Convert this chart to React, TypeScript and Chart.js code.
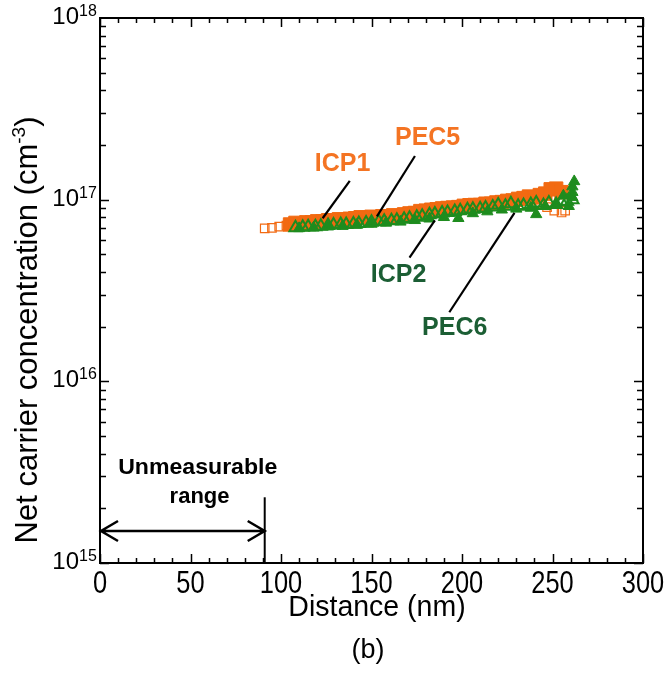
import React, { useEffect, useRef } from 'react';
import { Chart, registerables } from 'chart.js';

Chart.register(...registerables);

// ---------- data ----------
const ICP1_X = [105, 108, 111, 114, 117, 120, 123, 126, 129, 132, 135, 138, 141, 144, 147, 150, 153, 156, 159, 162, 165, 168, 171, 174, 177, 180, 183, 186, 189, 192, 195, 198, 201, 204, 207, 210, 213, 216, 219, 222, 225, 228, 231, 234, 237, 240, 243, 246, 249, 252, 255];
const ICP1_Y = [7.3e16, 7.45e16, 7.35e16, 7.5e16, 7.5e16, 7.6e16, 7.6e16, 7.7e16, 7.7e16, 7.8e16, 7.75e16, 7.85e16, 7.9e16, 8.0e16, 7.95e16, 8.05e16, 8.0e16, 8.1e16, 8.1e16, 8.2e16, 8.15e16, 8.3e16, 8.4e16, 8.45e16, 8.65e16, 8.7e16, 8.8e16, 8.85e16, 8.95e16, 9.0e16, 9.05e16, 9.1e16, 9.25e16, 9.25e16, 9.35e16, 9.35e16, 9.5e16, 9.5e16, 9.65e16, 9.7e16, 9.85e16, 9.9e16, 1.01e17, 1.02e17, 1.04e17, 1.03e17, 1.06e17, 1.08e17, 1.14e17, 1.15e17, 1.1e17];

const PEC5_X = [91, 95, 99, 103, 107, 111, 115, 119, 123, 127, 131, 135, 139, 143, 147, 151, 155, 159, 163, 167, 171, 175, 179, 183, 187, 191, 195, 199, 203, 207, 211, 215, 219, 223, 227, 231, 235, 239, 243, 247, 251, 255, 257];
const PEC5_Y = [6.95e16, 7.0e16, 7.1e16, 7.2e16, 7.25e16, 7.3e16, 7.4e16, 7.45e16, 7.5e16, 7.55e16, 7.6e16, 7.65e16, 7.7e16, 7.8e16, 7.85e16, 7.9e16, 8.0e16, 8.05e16, 8.15e16, 8.25e16, 8.35e16, 8.45e16, 8.55e16, 8.65e16, 8.8e16, 8.9e16, 9.0e16, 9.2e16, 9.6e16, 9.3e16, 9.4e16, 9.5e16, 9.6e16, 9.8e16, 9.9e16, 9.7e16, 1.02e17, 1.0e17, 9.5e16, 9.1e16, 8.7e16, 8.5e16, 8.7e16];

const ICP2_X = [110, 118, 126, 134, 142, 150, 158, 166, 174, 182, 190, 198, 206, 214, 222, 230, 238, 241, 246, 252, 256, 259, 261, 261, 261, 262];
const ICP2_Y = [6.95e16, 7.0e16, 7.1e16, 7.15e16, 7.25e16, 7.35e16, 7.45e16, 7.55e16, 7.7e16, 7.85e16, 8.0e16, 7.9e16, 8.4e16, 8.6e16, 8.8e16, 8.9e16, 9.0e16, 8.3e16, 9.2e16, 9.4e16, 1.05e17, 9.2e16, 1.03e17, 1.1e17, 1.18e17, 1.26e17];

const PEC6_X = [108, 112, 115, 119, 122, 126, 129, 133, 136, 140, 143, 147, 150, 154, 157, 161, 164, 168, 171, 175, 178, 182, 185, 189, 192, 196, 199, 203, 206, 210, 213, 217, 220, 224, 227, 231, 234, 238, 241, 245, 248, 252, 255, 258, 261];
const PEC6_Y = [7.0e16, 7.05e16, 7.1e16, 7.1e16, 7.15e16, 7.2e16, 7.25e16, 7.3e16, 7.3e16, 7.35e16, 7.4e16, 7.45e16, 7.5e16, 7.55e16, 7.6e16, 7.65e16, 7.7e16, 7.8e16, 7.9e16, 8.0e16, 8.1e16, 8.25e16, 8.35e16, 8.45e16, 8.5e16, 8.6e16, 8.7e16, 8.8e16, 8.85e16, 8.9e16, 9.0e16, 9.1e16, 9.35e16, 9.2e16, 9.5e16, 9.2e16, 9.3e16, 9.4e16, 9.6e16, 9.3e16, 9.6e16, 9.4e16, 9.7e16, 9.8e16, 1.0e17];

const SERIES_NAMES = ['ICP1', 'PEC5', 'ICP2', 'PEC6'];

const X_TICKS = [0, 50, 100, 150, 200, 250, 300];
const Y_DECADES = [15, 16, 17, 18];
const X_TITLE = 'Distance (nm)';
const Y_TITLE = 'Net carrier concentration (cm';
const Y_TITLE_SUP = '-3';
const CAPTION = '(b)';
const UNMEAS_LINES = ['Unmeasurable', 'range'];
const UNMEAS_LIMIT = 91;

// annotation anchors in data units: [label x, label y, line x1, y1, x2, y2]
const LABEL_ICP1 = [134, 1.57e17, 138, 1.27e17, 123, 7.9e16];
const LABEL_PEC5 = [181, 2.18e17, 174, 1.74e17, 153, 8.1e16];
const LABEL_ICP2 = [165, 3.85e16, 171, 4.8e16, 185, 7.7e16];
const LABEL_PEC6 = [196, 1.97e16, 193, 2.4e16, 229, 8.45e16];
const UNMEAS_TEXT_POS = [54, 3.34e15, 55, 2.3e15];
const ARROW_Y = 1.5e15;
const LIMIT_TOP = 2.3e15;

const ORANGE = '#F26A12';
const ORANGE_TXT = '#F47423';
const GREEN = '#1E8C1E';
const GREEN_TXT = '#1B5E34';
const FONT = '"Liberation Sans", Arial, sans-serif';

function pts(xs: number[], ys: number[]) {
  return xs.map((x, i) => ({ x, y: ys[i] }));
}

const decorPlugin = {
  id: 'decor',
  afterDatasetsDraw(chart: any) {
    const ctx: CanvasRenderingContext2D = chart.ctx;
    const xs = chart.scales.x;
    const ys = chart.scales.y;
    const ca = chart.chartArea;
    const X = (v: number) => xs.getPixelForValue(v);
    const Y = (v: number) => ys.getPixelForValue(v);
    ctx.save();

    // frame
    ctx.strokeStyle = '#000';
    ctx.lineWidth = 2;
    ctx.strokeRect(ca.left, ca.top, ca.right - ca.left, ca.bottom - ca.top);

    // x ticks (inward, top & bottom)
    ctx.lineWidth = 1.5;
    for (let v = 0; v <= 300; v += 10) {
      const len = v % 50 === 0 ? 9 : 5;
      const px = Math.round(X(v)) + 0.5;
      ctx.beginPath();
      ctx.moveTo(px, ca.bottom);
      ctx.lineTo(px, ca.bottom - len);
      ctx.moveTo(px, ca.top);
      ctx.lineTo(px, ca.top + len);
      ctx.stroke();
    }
    // y ticks (log, inward, left & right)
    for (let d = 15; d < 18; d++) {
      for (let m = 1; m <= 9; m++) {
        const v = m * Math.pow(10, d);
        const len = m === 1 ? 9 : 6;
        const py = Math.round(Y(v)) + 0.5;
        ctx.beginPath();
        ctx.moveTo(ca.left, py);
        ctx.lineTo(ca.left + len, py);
        ctx.moveTo(ca.right, py);
        ctx.lineTo(ca.right - len, py);
        ctx.stroke();
      }
    }

    // x tick labels
    ctx.fillStyle = '#000';
    ctx.textBaseline = 'alphabetic';
    ctx.textAlign = 'center';
    X_TICKS.forEach((t) => {
      ctx.save();
      ctx.translate(X(t), ca.bottom + 30);
      ctx.scale(0.82, 1);
      ctx.font = `31px ${FONT}`;
      ctx.textAlign = 'center';
      ctx.fillText(String(t), 0, 0);
      ctx.restore();
    });

    // y tick labels 10^n
    const baseRight = ca.left - 21;
    Y_DECADES.forEach((d) => {
      const py = Y(Math.pow(10, d));
      ctx.font = `24px ${FONT}`;
      ctx.textAlign = 'right';
      ctx.fillText('10', baseRight, py + 6);
      ctx.font = `16px ${FONT}`;
      ctx.textAlign = 'left';
      ctx.fillText(String(d), baseRight, py - 2);
    });

    // x title
    ctx.textAlign = 'center';
    ctx.font = `30px ${FONT}`;
    ctx.save();
    ctx.translate(377, ca.bottom + 53);
    ctx.scale(0.95, 1);
    ctx.fillText(X_TITLE, 0, 0);
    ctx.restore();

    // caption
    ctx.font = `27px ${FONT}`;
    ctx.fillText(CAPTION, 368, ca.bottom + 95);

    // y title rotated
    ctx.save();
    ctx.translate(37, 330);
    ctx.rotate(-Math.PI / 2);
    ctx.font = `31px ${FONT}`;
    const w1 = ctx.measureText(Y_TITLE).width;
    ctx.font = `19px ${FONT}`;
    const w2 = ctx.measureText(Y_TITLE_SUP).width;
    ctx.font = `31px ${FONT}`;
    const w3 = ctx.measureText(')').width;
    const total = w1 + w2 + w3;
    let sx = -total / 2;
    ctx.textAlign = 'left';
    ctx.fillText(Y_TITLE, sx, 0);
    sx += w1;
    ctx.font = `19px ${FONT}`;
    ctx.fillText(Y_TITLE_SUP, sx, -12);
    sx += w2;
    ctx.font = `31px ${FONT}`;
    ctx.fillText(')', sx, 0);
    ctx.restore();

    // series labels and leader lines
    const lab = (a: number[], text: string, color: string) => {
      ctx.strokeStyle = '#000';
      ctx.lineWidth = 2.2;
      ctx.beginPath();
      ctx.moveTo(X(a[2]), Y(a[3]));
      ctx.lineTo(X(a[4]), Y(a[5]));
      ctx.stroke();
      ctx.fillStyle = color;
      ctx.font = `bold 25px ${FONT}`;
      ctx.textAlign = 'center';
      ctx.textBaseline = 'middle';
      ctx.fillText(text, X(a[0]), Y(a[1]));
    };
    lab(LABEL_ICP1, SERIES_NAMES[0], ORANGE_TXT);
    lab(LABEL_PEC5, SERIES_NAMES[1], ORANGE_TXT);
    lab(LABEL_ICP2, SERIES_NAMES[2], GREEN_TXT);
    lab(LABEL_PEC6, SERIES_NAMES[3], GREEN_TXT);

    // unmeasurable range
    ctx.fillStyle = '#000';
    ctx.textAlign = 'center';
    ctx.textBaseline = 'middle';
    ctx.font = `bold 22px ${FONT}`;
    ctx.save();
    ctx.translate(X(UNMEAS_TEXT_POS[0]), Y(UNMEAS_TEXT_POS[1]));
    ctx.scale(1.05, 1);
    ctx.fillText(UNMEAS_LINES[0], 0, 0);
    ctx.restore();
    ctx.fillText(UNMEAS_LINES[1], X(UNMEAS_TEXT_POS[2]), Y(UNMEAS_TEXT_POS[3]));

    const ax0 = X(0);
    const ax1 = X(UNMEAS_LIMIT);
    const ay = Y(ARROW_Y);
    ctx.strokeStyle = '#000';
    ctx.lineWidth = 2.5;
    ctx.beginPath();
    ctx.moveTo(ax0 + 1, ay);
    ctx.lineTo(ax1, ay);
    ctx.moveTo(ax0 + 18, ay - 10);
    ctx.lineTo(ax0 + 1, ay);
    ctx.lineTo(ax0 + 18, ay + 10);
    ctx.moveTo(ax1 - 17, ay - 10);
    ctx.lineTo(ax1, ay);
    ctx.lineTo(ax1 - 17, ay + 10);
    ctx.stroke();
    ctx.lineWidth = 2;
    ctx.beginPath();
    ctx.moveTo(ax1, Y(LIMIT_TOP));
    ctx.lineTo(ax1, ca.bottom);
    ctx.stroke();

    ctx.restore();
  },
};

export default function App() {
  const ref = useRef<HTMLCanvasElement | null>(null);
  useEffect(() => {
    document.body.style.margin = '0';
    const canvas = ref.current;
    if (!canvas) return;
    const chart = new Chart(canvas, {
      type: 'scatter',
      data: {
        datasets: [
          {
            label: SERIES_NAMES[3],
            data: pts(PEC6_X, PEC6_Y),
            pointStyle: 'triangle',
            pointRadius: 7,
            borderColor: GREEN,
            backgroundColor: 'rgba(0,0,0,0)',
            pointBorderWidth: 2,
            order: 1,
          },
          {
            label: SERIES_NAMES[2],
            data: pts(ICP2_X, ICP2_Y),
            pointStyle: 'triangle',
            pointRadius: 6.5,
            borderColor: GREEN,
            backgroundColor: GREEN,
            pointBorderWidth: 1,
            order: 2,
          },
          {
            label: SERIES_NAMES[1],
            data: pts(PEC5_X, PEC5_Y),
            pointStyle: 'rect',
            pointRadius: 6,
            borderColor: ORANGE,
            backgroundColor: 'rgba(0,0,0,0)',
            pointBorderWidth: 1.2,
            order: 3,
          },
          {
            label: SERIES_NAMES[0],
            data: pts(ICP1_X, ICP1_Y),
            pointStyle: 'rect',
            pointRadius: 9.5,
            borderColor: ORANGE,
            backgroundColor: ORANGE,
            pointBorderWidth: 1,
            order: 4,
          },
        ],
      },
      options: {
        responsive: false,
        animation: false,
        devicePixelRatio: 1,
        layout: { padding: { left: 100, top: 18, right: 27, bottom: 110 } },
        plugins: { legend: { display: false }, tooltip: { enabled: false } },
        scales: {
          x: { type: 'linear', min: 0, max: 300, display: false },
          y: { type: 'logarithmic', min: 1e15, max: 1e18, display: false },
        },
      },
      plugins: [decorPlugin],
    });
    return () => chart.destroy();
  }, []);
  return (
    <div style={{ width: 670, height: 673, background: '#fff' }}>
      <canvas ref={ref} width={670} height={673} style={{ display: 'block' }} />
    </div>
  );
}
